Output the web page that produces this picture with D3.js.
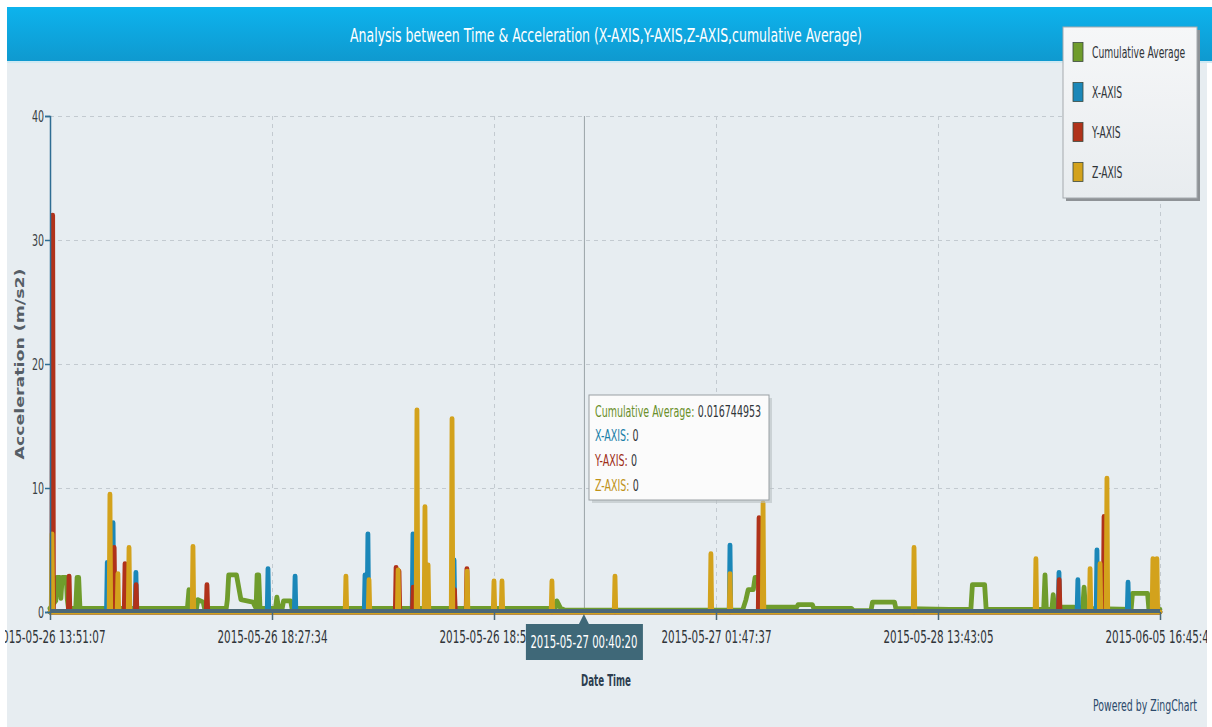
<!DOCTYPE html>
<html>
<head>
<meta charset="utf-8">
<script src="https://cdn.jsdelivr.net/npm/d3@7"></script>
<style>
  body { margin: 0; background: #fff; }
  svg { display: block; font-family: "DejaVu Sans Condensed", "DejaVu Sans", sans-serif; }
</style>
</head>
<body>
<div id="chart"></div>
<script>
// x axis is a sample index axis (ZingChart style), labels at every 100 samples
const tickIndex = [0, 100, 200, 300, 400, 500];
const tickLabels = ['2015-05-26 13:51:07', '2015-05-26 18:27:34', '2015-05-26 18:59:41',
    '2015-05-27 01:47:37', '2015-05-28 13:43:05', '2015-06-05 16:45:48'];
const yTicks = [0, 10, 20, 30, 40];

const seriesNames = ['Cumulative Average', 'X-AXIS', 'Y-AXIS', 'Z-AXIS'];

// cumulative average: [index, value] vertices
const avgPoints = [
    [0, 0.3], [2.6, 0.9], [3.0, 2.8], [4.4, 2.8], [4.9, 1.1], [5.5, 2.8], [7.3, 2.8], [7.8, 1.0], [8.3, 0.3],
    [11.6, 0.3], [12.2, 2.8], [12.9, 2.8], [13.5, 0.3],
    [61.9, 0.3], [62.6, 1.8], [63.3, 0.3],
    [66.0, 0.3], [66.6, 1.0], [69.0, 0.8], [69.6, 0.3],
    [79.4, 0.3], [79.9, 1.0], [80.5, 3.0], [84.0, 3.0], [86.0, 1.0], [91.4, 0.8], [92.8, 0.3],
    [93.3, 3.0], [94.0, 3.0], [94.6, 0.3],
    [101.6, 0.3], [102.2, 1.2], [103.0, 0.3],
    [104.6, 0.3], [105.2, 0.9], [108.4, 0.9], [109.0, 0.3],
    [227.6, 0.3], [228.3, 0.9], [230.0, 0.3], [232.0, 0.15],
    [312.0, 0.15], [313.5, 1.0], [314.5, 1.8], [316.8, 1.8], [317.6, 2.8], [319.0, 2.8], [320.5, 0.4],
    [336.4, 0.4], [337.0, 0.6], [343.4, 0.6], [344.0, 0.3], [361.0, 0.3], [362.0, 0.1],
    [369.8, 0.1], [370.5, 0.8], [380.4, 0.8], [381.0, 0.3], [405.0, 0.2],
    [414.8, 0.2], [415.5, 2.2], [421.0, 2.2], [421.7, 0.2],
    [447.6, 0.2], [448.2, 3.0], [448.8, 0.2],
    [451.3, 0.2], [451.9, 1.4], [452.5, 0.2],
    [456.0, 0.4], [461.0, 0.4],
    [465.2, 0.3], [465.8, 2.0], [466.4, 0.3],
    [487.0, 0.2], [487.6, 1.5], [494.4, 1.5], [495.0, 0.2], [500, 0.2]
];

// axis readings: value is 0 everywhere except these spikes [index, value]
const xSpikes = [[25.8, 4.0], [28.4, 7.2], [38.7, 3.2], [98.2, 3.5], [110.4, 2.9], [141.9, 3.0], [143.2, 6.3],
    [163.5, 6.3], [182.0, 4.2], [306.3, 5.4], [454.5, 3.2], [463.0, 2.6], [471.6, 5.0], [485.6, 2.4]];
const ySpikes = [[1.2, 32.0], [8.6, 2.9], [28.9, 5.2], [33.8, 3.9], [38.8, 2.2], [70.7, 2.2], [155.9, 3.6],
    [157.2, 3.3], [163.6, 2.0], [182.2, 1.8], [187.8, 3.5], [319.4, 7.6], [454.6, 2.6], [474.8, 7.7]];
const zSpikes = [[0.9, 6.3], [27.0, 9.5], [30.6, 3.1], [35.6, 5.2], [64.4, 5.3], [133.3, 2.9], [143.7, 2.6],
    [156.8, 3.4], [165.3, 16.3], [168.9, 8.5], [170.3, 3.8], [181.1, 15.6], [187.9, 3.3], [200.0, 2.5],
    [203.6, 2.5], [226.1, 2.5], [254.5, 2.9], [297.7, 4.7], [306.3, 3.1], [321.2, 8.8], [389.2, 5.2],
    [444.1, 4.3], [468.5, 3.5], [473.0, 3.9], [476.1, 10.8], [496.8, 4.3], [498.6, 4.3]];

// hovered sample shown in the tooltip
const hoverIndex = 240.5;
const hoverLabel = '2015-05-27 00:40:20';
const hoverValues = ['0.016744953', '0', '0', '0'];

const colors = ['#6f9c2c', '#1b87b8', '#b0321a', '#d3a21c'];
const textColors = ['#6a8f2a', '#1a7fa8', '#9e2e18', '#c0931a'];

const W = 1212, H = 727;
const plot = { left: 50, right: 1160, top: 116, bottom: 612 };

const svg = d3.select('#chart').append('svg')
    .attr('width', W)
    .attr('height', H);

// squeeze text horizontally to look like the narrow ZingChart fonts
function squeeze(sel, k) {
    sel.each(function() {
        const len = this.getComputedTextLength();
        d3.select(this).attr('textLength', len * k).attr('lengthAdjust', 'spacingAndGlyphs');
    });
}
function fit(sel, width) {
    sel.attr('textLength', width).attr('lengthAdjust', 'spacingAndGlyphs');
}

const defs = svg.append('defs');
const titleGrad = defs.append('linearGradient').attr('id', 'titleGrad')
    .attr('x1', 0).attr('y1', 0).attr('x2', 0).attr('y2', 1);
titleGrad.append('stop').attr('offset', '0%').attr('stop-color', '#0db3ed');
titleGrad.append('stop').attr('offset', '100%').attr('stop-color', '#0f99cf');
const legendGrad = defs.append('linearGradient').attr('id', 'legendGrad')
    .attr('x1', 0).attr('y1', 0).attr('x2', 0).attr('y2', 1);
legendGrad.append('stop').attr('offset', '0%').attr('stop-color', '#f6f7f8');
legendGrad.append('stop').attr('offset', '100%').attr('stop-color', '#e8ecef');

// background + title bar
svg.append('rect').attr('x', 7).attr('y', 7).attr('width', W - 7).attr('height', H - 7).attr('fill', '#e7edf1');
svg.append('rect').attr('x', 7).attr('y', 7).attr('width', W - 7).attr('height', 54).attr('fill', 'url(#titleGrad)');
svg.append('rect').attr('x', 7).attr('y', 61).attr('width', W - 7).attr('height', 2).attr('fill', '#cfe9f3');

svg.append('text')
    .attr('x', 606).attr('y', 42)
    .attr('text-anchor', 'middle')
    .attr('fill', '#fff')
    .attr('font-size', 19)
    .text('Analysis between Time & Acceleration (X-AXIS,Y-AXIS,Z-AXIS,cumulative Average)')
    .call(fit, 512);

// scales
const x = d3.scaleLinear().domain([0, 500]).range([plot.left, plot.right]);
const y = d3.scaleLinear().domain([0, 40]).range([plot.bottom, plot.top]);

// grid
const grid = svg.append('g').attr('stroke', '#c3cad0').attr('stroke-dasharray', '4,4').attr('stroke-width', 1);
grid.selectAll('line.h').data(yTicks.slice(1)).enter().append('line')
    .attr('x1', plot.left).attr('x2', plot.right)
    .attr('y1', d => y(d) + 0.5).attr('y2', d => y(d) + 0.5);
grid.selectAll('line.v').data(tickIndex.slice(1)).enter().append('line')
    .attr('x1', d => x(d) + 0.5).attr('x2', d => x(d) + 0.5)
    .attr('y1', plot.top).attr('y2', plot.bottom);

// crosshair
svg.append('line')
    .attr('x1', x(hoverIndex) + 0.5).attr('x2', x(hoverIndex) + 0.5)
    .attr('y1', plot.top).attr('y2', plot.bottom)
    .attr('stroke', '#9aa3a8').attr('stroke-width', 1);

// series
const spikeHalf = 0.35;
function spikePath(spikes) {
    const pts = [[0, 0]];
    spikes.slice().sort((a, b) => a[0] - b[0]).forEach(s => {
        pts.push([s[0] - spikeHalf, 0], [s[0], s[1]], [s[0] + spikeHalf, 0]);
    });
    pts.push([500, 0]);
    return pts;
}
const line = d3.line().x(d => x(d[0])).y(d => y(d[1]));
const seriesData = [avgPoints, spikePath(xSpikes), spikePath(ySpikes), spikePath(zSpikes)];

svg.append('g').selectAll('path')
    .data(seriesData)
    .enter()
    .append('path')
    .attr('d', line)
    .attr('fill', 'none')
    .attr('stroke', (d, i) => colors[i])
    .attr('stroke-width', 4.8)
    .attr('stroke-linejoin', 'round')
    .attr('stroke-linecap', 'round');

// y axis
const yAxis = svg.append('g')
    .attr('transform', `translate(${plot.left},0)`)
    .call(d3.axisLeft(y).tickValues(yTicks).tickSize(5).tickFormat(d3.format('d')));
yAxis.select('.domain').attr('stroke', '#2f6d93').attr('stroke-width', 1.5);
yAxis.selectAll('.tick line').attr('stroke', '#2f6d93').attr('stroke-width', 1.5);
yAxis.selectAll('.tick text')
    .attr('x', -6)
    .attr('fill', '#3a3f44')
    .attr('font-size', 16)
    .attr('font-family', '"DejaVu Sans Condensed", "DejaVu Sans", sans-serif')
    .call(squeeze, 0.66);

// x axis
svg.append('line')
    .attr('x1', plot.left).attr('x2', plot.right)
    .attr('y1', plot.bottom - 1).attr('y2', plot.bottom - 1)
    .attr('stroke', '#4b6878').attr('stroke-width', 4);
const xAxis = svg.append('g')
    .attr('transform', `translate(0,${plot.bottom})`)
    .call(d3.axisBottom(x).tickValues(tickIndex).tickSize(8).tickFormat((d, i) => tickLabels[i]));
xAxis.select('.domain').remove();
xAxis.selectAll('.tick line').attr('stroke', '#4b6878').attr('stroke-width', 1.5);
xAxis.selectAll('.tick text')
    .attr('y', 25)
    .attr('dy', '0.35em')
    .attr('fill', '#2f3438')
    .attr('font-size', 17)
    .attr('font-family', '"DejaVu Sans Condensed", "DejaVu Sans", sans-serif')
    .call(fit, 110);

// axis titles
svg.append('g')
    .attr('transform', 'translate(20,364) scale(0.8,1) rotate(-90)')
    .append('text')
    .attr('text-anchor', 'middle')
    .attr('dy', '0.35em')
    .attr('font-size', 15)
    .attr('font-weight', 'bold')
    .attr('fill', '#565e66')
    .text('Acceleration (m/s2)')
    .call(fit, 191);

svg.append('text')
    .attr('x', 606).attr('y', 686)
    .attr('text-anchor', 'middle')
    .attr('font-size', 16)
    .attr('font-weight', 'bold')
    .attr('fill', '#2d3e50')
    .text('Date Time')
    .call(fit, 50);

svg.append('text')
    .attr('x', 1093).attr('y', 711)
    .attr('font-size', 15)
    .attr('fill', '#2c4a6b')
    .text('Powered by ZingChart')
    .call(fit, 104);

// hover label on x axis
const hx = x(hoverIndex);
const hl = svg.append('g');
hl.append('path')
    .attr('d', `M${hx - 5},${plot.bottom + 12} L${hx},${plot.bottom + 2} L${hx + 5},${plot.bottom + 12} Z`)
    .attr('fill', '#3f6878');
hl.append('rect')
    .attr('x', hx - 58).attr('y', 624).attr('width', 117).attr('height', 36)
    .attr('fill', '#3f6878');
hl.append('text')
    .attr('x', hx).attr('y', 642).attr('dy', '0.35em')
    .attr('text-anchor', 'middle')
    .attr('fill', '#fff')
    .attr('font-size', 17)
    .text(hoverLabel)
    .call(fit, 107);

// tooltip (rows narrowed with a group transform)
const tip = svg.append('g').attr('transform', 'translate(589,395)');
tip.append('rect').attr('x', 3).attr('y', 3).attr('width', 180).attr('height', 105).attr('fill', '#b9bfc3').attr('opacity', 0.6);
tip.append('rect').attr('width', 180).attr('height', 105).attr('fill', '#fbfbfb').attr('stroke', '#9aa0a4');
const rows = tip.selectAll('g.row')
    .data(seriesNames)
    .enter()
    .append('g')
    .attr('transform', (d, i) => `translate(6,${16 + i * 24.7}) scale(0.66,1)`);
rows.each(function(d, i) {
    const row = d3.select(this);
    const label = row.append('text')
        .attr('dy', '0.35em')
        .attr('font-size', 16)
        .attr('fill', textColors[i])
        .text(d + ':');
    const w = label.node().getComputedTextLength();
    row.append('text')
        .attr('x', w + 5)
        .attr('dy', '0.35em')
        .attr('font-size', 16)
        .attr('fill', '#2f3438')
        .text(hoverValues[i]);
});

// legend
const lg = svg.append('g').attr('transform', 'translate(1063,27)');
lg.append('rect').attr('x', 3).attr('y', 3).attr('width', 134).attr('height', 171).attr('fill', '#8e9296');
lg.append('rect').attr('width', 134).attr('height', 171).attr('fill', 'url(#legendGrad)').attr('stroke', '#a5aaae');
const items = lg.selectAll('g.item')
    .data(seriesNames)
    .enter()
    .append('g')
    .attr('transform', (d, i) => `translate(0,${25 + i * 40})`);
items.append('rect')
    .attr('x', 10).attr('y', -9.5).attr('width', 10).attr('height', 19)
    .attr('fill', (d, i) => colors[i])
    .attr('stroke', '#3c4a40').attr('stroke-width', 0.8);
items.append('text')
    .attr('x', 29).attr('dy', '0.35em')
    .attr('font-size', 16)
    .attr('fill', '#2f3438')
    .text(d => d)
    .call(squeeze, 0.64);

// the chart frame is cropped slightly on both sides
svg.append('rect').attr('x', 0).attr('y', 0).attr('width', 5).attr('height', H).attr('fill', '#fff');
svg.append('rect').attr('x', 1207).attr('y', 63).attr('width', 5).attr('height', H - 63).attr('fill', '#fff');
</script>
</body>
</html>
